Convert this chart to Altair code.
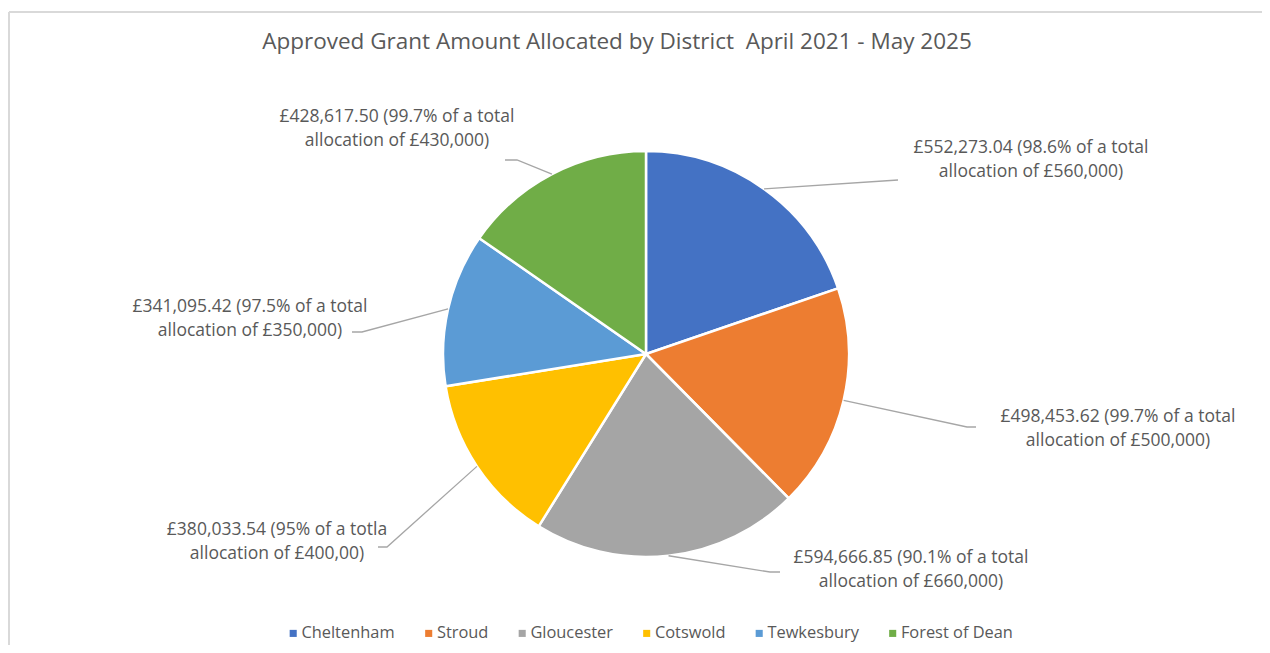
import math
import altair as alt
import pandas as pd

# ---- data ----
districts = ["Cheltenham", "Stroud", "Gloucester", "Cotswold", "Tewkesbury", "Forest of Dean"]
amounts = [552273.04, 498453.62, 594666.85, 380033.54, 341095.42, 428617.50]
label_texts = [
    ["£552,273.04 (98.6% of a total", "allocation of £560,000)"],
    ["£498,453.62 (99.7% of a total", "allocation of £500,000)"],
    ["£594,666.85 (90.1% of a total", "allocation of £660,000)"],
    ["£380,033.54 (95% of a totla", "allocation of £400,00)"],
    ["£341,095.42 (97.5% of a total", "allocation of £350,000)"],
    ["£428,617.50 (99.7% of a total", "allocation of £430,000)"],
]
colors = ["#4472C4", "#ED7D31", "#A5A5A5", "#FFC000", "#5B9BD5", "#70AD47"]
title_text = "Approved Grant Amount Allocated by District\u00a0 April 2021 - May 2025"

# ---- layout (page pixel coordinates) ----
W, H = 1254, 637
OX, OY = 8, 8          # page margin
CX, CY, R = 646, 354, 203
FONT = "Open Sans"
GREY = "#595959"
label_pos = [(1031, 148), (1118, 417), (911, 558), (277, 530), (250, 307), (397, 117)]
leader_bends = [
    [(898, 180)],
    [(967, 427), (976, 427)],
    [(770, 572), (780, 572)],
    [(387, 547), (378, 547)],
    [(362, 332), (352, 332)],
    [(517, 160), (505, 160)],
]

df = pd.DataFrame({"district": districts, "amount": amounts, "idx": range(len(districts))})

# leader lines start on pie edge at each slice's mid angle
total = sum(amounts)
rows = []
cum = 0.0
for i, (d, a) in enumerate(zip(districts, amounts)):
    mid = (cum + a / 2) / total * 2 * math.pi
    cum += a
    pts = [(CX + R * math.sin(mid), CY - R * math.cos(mid))] + leader_bends[i]
    for k, (px, py) in enumerate(pts):
        rows.append({"district": d, "k": k, "px": px, "py": py})
lines_df = pd.DataFrame(rows)

labels_df = pd.DataFrame({
    "district": districts,
    "text": label_texts,
    "px": [p[0] for p in label_pos],
    "py": [p[1] for p in label_pos],
})

xs = alt.Scale(domain=[OX, OX + W], nice=False, zero=False)
ys = alt.Scale(domain=[OY, OY + H], nice=False, zero=False, reverse=True)

color = alt.Color(
    "district:N",
    scale=alt.Scale(domain=districts, range=colors),
    sort=districts,
    legend=alt.Legend(
        title=None, orient="none", direction="horizontal",
        legendX=285 - OX, legendY=625 - OY,
        symbolType="square", symbolSize=50, symbolStrokeWidth=0,
        labelFont=FONT, labelFontSize=16.4, labelColor=GREY,
        labelOffset=0, columnPadding=25.5,
    ),
)

pie = alt.Chart(df).mark_arc(radius=R, stroke="white", strokeWidth=2.5).encode(
    theta=alt.Theta("amount:Q", stack=True),
    order=alt.Order("idx:Q"),
    color=color,
    x=alt.value(CX - OX),
    y=alt.value(CY - OY),
)

leaders = alt.Chart(lines_df).mark_line(color="#A6A6A6", strokeWidth=1.3).encode(
    x=alt.X("px:Q", scale=xs, axis=None),
    y=alt.Y("py:Q", scale=ys, axis=None),
    detail="district:N",
    order="k:Q",
)

labels = alt.Chart(labels_df).mark_text(
    font=FONT, fontSize=17.5, color=GREY, align="center", baseline="middle", lineHeight=24
).encode(
    x=alt.X("px:Q", scale=xs, axis=None),
    y=alt.Y("py:Q", scale=ys, axis=None),
    text="text",
)

title = alt.Chart(pd.DataFrame({"t": [title_text]})).mark_text(
    font=FONT, fontSize=22.5, color=GREY, align="center", baseline="middle"
).encode(x=alt.value(617 - OX), y=alt.value(42 - OY), text="t:N")

border = alt.Chart(pd.DataFrame({"a": [0]})).mark_rule(color="#D9D9D9", strokeWidth=2).encode(
    x=alt.value(1), y=alt.value(4), x2=alt.value(W), y2=alt.value(4)
)
border_left = alt.Chart(pd.DataFrame({"a": [0]})).mark_rule(color="#D9D9D9", strokeWidth=2).encode(
    x=alt.value(1), y=alt.value(4), x2=alt.value(1), y2=alt.value(H)
)

chart = alt.layer(border, border_left, pie, leaders, labels, title).properties(
    width=W, height=H, padding=0, autosize=alt.AutoSizeParams(type="none")
).resolve_scale(x="shared", y="shared").configure_view(stroke=None)

chart.save("out.html", embed_options={"renderer": "svg", "actions": False})
